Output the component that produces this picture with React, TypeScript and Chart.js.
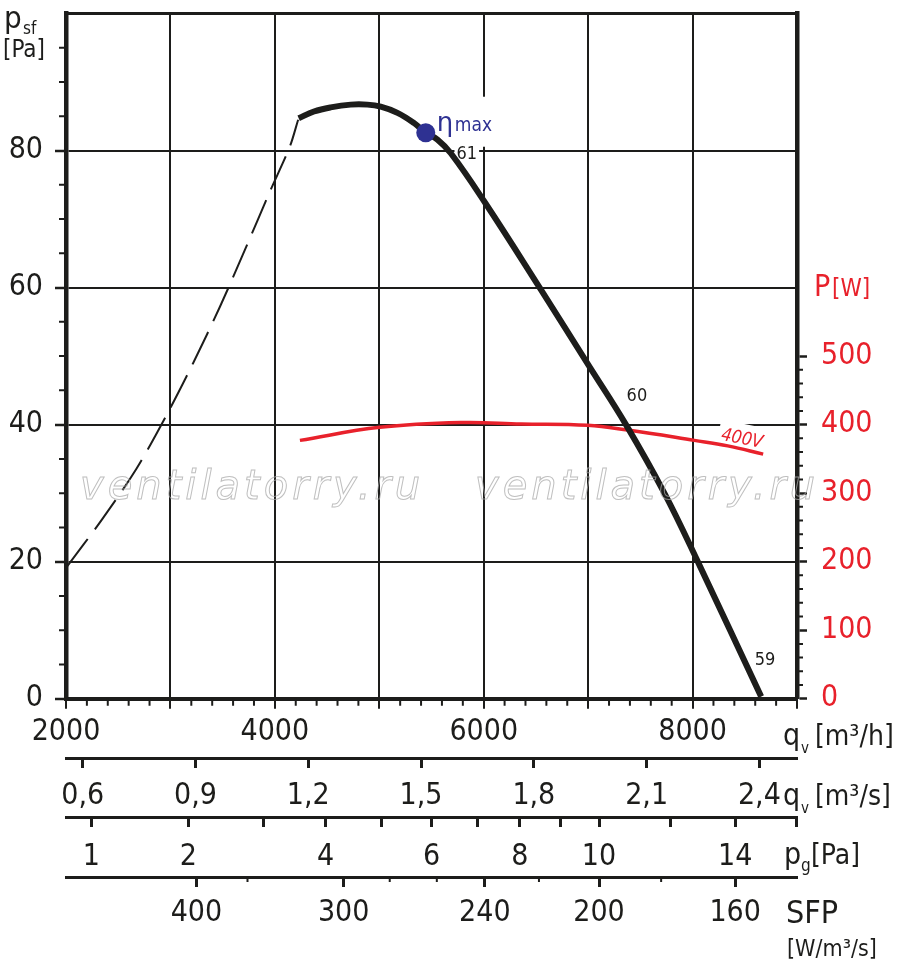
import { useEffect, useRef } from "react";
import { Chart, registerables } from "chart.js";

Chart.register(...registerables);

// stable part of the fan curve: q_v [m3/h] -> p_sf [Pa]
const flowSolid = [4228, 4374, 4534, 4726, 4886, 5014, 5174, 5334, 5445, 5557, 5685, 6004, 6531, 7011, 7362, 7730, 8050, 8657];
const pressureSolid = [84.7, 85.7, 86.3, 86.7, 86.7, 86.4, 85.5, 84.0, 82.6, 81.6, 79.6, 72.6, 60.1, 48.5, 40.0, 30.0, 20.0, 0.3];

// stall region (dashed)
const flowStall = [2000, 2342, 2676, 2963, 3218, 3474, 3713, 3952, 4144, 4223];
const pressureStall = [19.1, 26.1, 33.6, 41.4, 49.0, 57.2, 65.5, 74.0, 80.6, 84.5];

// input power at 400V: q_v [m3/h] -> P [W]
const flowPower = [4240, 5004, 5780, 6358, 6995, 7379, 8017, 8337, 8676];
const power = [377, 396, 403, 401, 399, 392, 377, 369, 357];

// best efficiency point
const etaMaxFlow = 5445;
const etaMaxPressure = 82.6;

// efficiency marks along the curve [%]
const efficiencyText = ["61", "60", "59"];
const efficiencyFlow = [5838, 7467, 8694];
const efficiencyPressure = [79.8, 44.5, 6.0];

// secondary scales
const flowM3s = [0.6, 0.9, 1.2, 1.5, 1.8, 2.1, 2.4];
const dynPressure = [1, 2, 3, 4, 5, 6, 7, 8, 9, 10, 12, 14, 16];
const dynPressureFlow = [2243, 3172, 3892, 4486, 5023, 5502, 5944, 6346, 6740, 7104, 7785, 8408, 8993];
const dynPressureShown = [1, 2, 4, 6, 8, 10, 14];
const sfpLabels = [400, 300, 240, 200, 160];
const sfpFlow = [3249, 4659, 6011, 7104, 8408];
const sfpMinorFlow = [3738, 5100, 5551, 6529, 7699];

const FONT = '"DejaVu Sans Condensed", "DejaVu Sans", sans-serif';
const INK = "#1d1d1b";
const RED = "#e8212b";
const BLUE = "#2e3192";

function text(ctx: CanvasRenderingContext2D, s: string, x: number, y: number, size: number, color = INK, align: CanvasTextAlign = "left", style = "") {
  ctx.font = `${style} ${size}px ${FONT}`;
  ctx.fillStyle = color;
  ctx.textAlign = align;
  ctx.textBaseline = "alphabetic";
  ctx.fillText(s, x, y);
  return ctx.measureText(s).width;
}

const noPadding = (s: any) => {
  s.paddingTop = 0;
  s.paddingBottom = 0;
  s.paddingLeft = 0;
  s.paddingRight = 0;
};

const extras = {
  id: "extras",
  beforeDatasetsDraw(chart: Chart) {
    const { ctx, chartArea: a, scales } = chart;
    const x = scales.x, y = scales.y, p = scales.p, sfp = scales.sfp;
    ctx.save();

    // top frame
    ctx.strokeStyle = INK;
    ctx.lineWidth = 3;
    ctx.beginPath();
    ctx.moveTo(a.left - 2, a.top);
    ctx.lineTo(a.right + 2, a.top);
    ctx.stroke();

    // minor ticks
    ctx.lineWidth = 2;
    ctx.beginPath();
    for (let q = 2200; q < 9000; q += 200) {
      if (q % 1000 === 0) continue;
      const px = x.getPixelForValue(q);
      ctx.moveTo(px, a.bottom);
      ctx.lineTo(px, a.bottom + 7);
    }
    for (let v = 5; v < 100; v += 5) {
      if (v % 20 === 0) continue;
      const py = y.getPixelForValue(v);
      ctx.moveTo(a.left - 7, py);
      ctx.lineTo(a.left, py);
    }
    for (let w = 20; w < 500; w += 20) {
      if (w % 100 === 0) continue;
      const py = p.getPixelForValue(w);
      ctx.moveTo(a.right, py);
      ctx.lineTo(a.right + 6, py);
    }
    sfpMinorFlow.forEach((q) => {
      const px = x.getPixelForValue(q);
      ctx.moveTo(px, sfp.top);
      ctx.lineTo(px, sfp.top + 5);
    });
    ctx.stroke();

    // eta max label
    const ex = x.getPixelForValue(etaMaxFlow);
    const ey = y.getPixelForValue(etaMaxPressure);
    ctx.fillStyle = "#fff";
    ctx.fillRect(ex + 10, ey - 36, 56, 50);
    ctx.font = `26px "DejaVu Sans", sans-serif`;
    ctx.fillStyle = BLUE;
    ctx.textAlign = "left";
    ctx.fillText("η", ex + 11, ey - 2);
    text(ctx, "max", ex + 29, ey - 2, 19, BLUE);

    // efficiency marks
    efficiencyText.forEach((s, i) => {
      const px = x.getPixelForValue(efficiencyFlow[i]);
      const py = y.getPixelForValue(efficiencyPressure[i]);
      ctx.font = `18px ${FONT}`;
      const w = ctx.measureText(s).width;
      ctx.fillStyle = "#fff";
      ctx.fillRect(px - w / 2 - 2, py - 9, w + 4, 18);
      text(ctx, s, px, py + 7, 18, INK, "center");
    });

    // 400V label
    const vx = x.getPixelForValue(8477);
    const vy = p.getPixelForValue(382);
    ctx.save();
    ctx.translate(vx, vy);
    ctx.rotate((11 * Math.PI) / 180);
    ctx.font = `italic 18px ${FONT}`;
    const vw = ctx.measureText("400V").width;
    ctx.fillStyle = "#fff";
    ctx.fillRect(-vw / 2 - 3, -13, vw + 6, 22);
    text(ctx, "400V", 0, 7, 18, RED, "center", "italic");
    ctx.restore();

    // axis titles
    text(ctx, "p", 4, 28, 31);
    text(ctx, "sf", 23, 34, 17);
    text(ctx, "[Pa]", 3, 57, 24);

    text(ctx, "P", 814, 296, 30, RED);
    text(ctx, "[W]", 832, 296, 24, RED);

    text(ctx, "q", 783, 745, 30);
    text(ctx, "v", 801, 753, 15);
    text(ctx, "[m³/h]", 815, 745, 28);

    text(ctx, "q", 783, 805, 30);
    text(ctx, "v", 801, 813, 15);
    text(ctx, "[m³/s]", 815, 805, 28);

    text(ctx, "p", 784, 864, 30);
    text(ctx, "g", 801, 871, 17);
    text(ctx, "[Pa]", 811, 864, 28);

    text(ctx, "SFP", 786, 923, 32);
    text(ctx, "[W/m³/s]", 787, 956, 23);

    ctx.restore();
  },
  afterDatasetsDraw(chart: Chart) {
    const { ctx } = chart;
    ctx.save();
    ctx.font = `oblique 40px "DejaVu Sans", sans-serif`;
    (ctx as any).letterSpacing = "4px";
    ctx.strokeStyle = "rgba(170,170,170,0.75)";
    ctx.lineWidth = 1;
    ctx.textAlign = "left";
    ctx.strokeText("ventilatorry.ru", 80, 499);
    ctx.strokeText("ventilatorry.ru", 475, 499);
    ctx.restore();
  },
};

export default function App() {
  const canvasRef = useRef<HTMLCanvasElement | null>(null);

  useEffect(() => {
    const canvas = canvasRef.current;
    if (!canvas) return;

    const tickFont = { family: FONT, size: 30 };
    const bottomAxis = (weight: number, height: number, padding: number) => ({
      type: "linear" as const,
      position: "bottom" as const,
      min: 2000,
      max: 9000,
      weight,
      grid: { drawOnChartArea: false, color: INK, tickLength: 10, tickWidth: 3 },
      border: { color: INK, width: 3 },
      afterFit: (s: any) => {
        s.height = height;
        noPadding(s);
      },
      ticks: { autoSkip: false, maxRotation: 0, padding, color: INK, font: tickFont },
    });

    const chart = new Chart(canvas, {
      type: "line",
      data: {
        datasets: [
          {
            data: [{ x: etaMaxFlow, y: etaMaxPressure }],
            showLine: false,
            pointRadius: 9.5,
            pointBackgroundColor: BLUE,
            pointBorderWidth: 0,
            order: 0,
          },
          {
            data: flowSolid.map((q, i) => ({ x: q, y: pressureSolid[i] })),
            borderColor: INK,
            borderWidth: 6,
            pointRadius: 0,
            tension: 0.4,
            order: 1,
          },
          {
            data: flowPower.map((q, i) => ({ x: q, y: power[i] })),
            yAxisID: "p",
            borderColor: RED,
            borderWidth: 3.5,
            pointRadius: 0,
            tension: 0.4,
            order: 2,
          },
          {
            data: flowStall.map((q, i) => ({ x: q, y: pressureStall[i] })),
            borderColor: INK,
            borderWidth: 2,
            borderDash: [36, 12],
            pointRadius: 0,
            tension: 0.3,
            order: 3,
          },
        ],
      },
      options: {
        animation: false,
        responsive: false,
        devicePixelRatio: 1,
        layout: { padding: { top: 13.5, left: 0, right: 0, bottom: 0 } },
        plugins: { legend: { display: false }, tooltip: { enabled: false } },
        scales: {
          x: {
            type: "linear",
            position: "bottom",
            min: 2000,
            max: 9000,
            weight: 0,
            grid: { color: INK, lineWidth: 2, tickLength: 10, tickWidth: 2 },
            border: { color: INK, width: 4 },
            afterFit: (s: any) => {
              s.height = 59.3;
              noPadding(s);
            },
            ticks: {
              stepSize: 1000,
              autoSkip: false,
              maxRotation: 0,
              padding: 6,
              color: INK,
              font: tickFont,
              callback: (v: any) => (Number(v) % 2000 === 0 ? String(v) : ""),
            },
          },
          ms: {
            ...bottomAxis(1, 59, 10),
            afterBuildTicks: (s: any) => {
              s.ticks = flowM3s.map((v) => ({ value: v * 3600 }));
            },
            ticks: {
              ...bottomAxis(1, 59, 10).ticks,
              callback: (_v: any, i: number) => flowM3s[i].toFixed(1).replace(".", ","),
            },
          },
          pg: {
            ...bottomAxis(2, 60, 12),
            afterBuildTicks: (s: any) => {
              s.ticks = dynPressureFlow.map((q) => ({ value: q }));
            },
            ticks: {
              ...bottomAxis(2, 60, 12).ticks,
              callback: (_v: any, i: number) =>
                dynPressureShown.includes(dynPressure[i]) ? String(dynPressure[i]) : "",
            },
          },
          sfp: {
            ...bottomAxis(3, 93, 8),
            afterBuildTicks: (s: any) => {
              s.ticks = sfpFlow.map((q) => ({ value: q }));
            },
            ticks: {
              ...bottomAxis(3, 93, 8).ticks,
              callback: (_v: any, i: number) => String(sfpLabels[i]),
            },
          },
          y: {
            type: "linear",
            position: "left",
            min: 0,
            max: 100,
            grid: { color: INK, lineWidth: 2, tickLength: 11, tickWidth: 2.5 },
            border: { color: INK, width: 4.5 },
            afterBuildTicks: (s: any) => {
              s.ticks = s.ticks.filter((t: any) => t.value <= 80);
            },
            afterFit: (s: any) => {
              s.width = 66;
              noPadding(s);
            },
            ticks: { stepSize: 20, padding: 12, color: INK, font: tickFont },
          },
          p: {
            type: "linear",
            position: "right",
            min: 0,
            max: 1000,
            grid: { drawOnChartArea: false, color: INK, tickLength: 10, tickWidth: 2.5 },
            border: { color: INK, width: 4.5 },
            afterBuildTicks: (s: any) => {
              s.ticks = s.ticks.filter((t: any) => t.value <= 500);
            },
            afterFit: (s: any) => {
              s.width = 103;
              noPadding(s);
            },
            ticks: { stepSize: 100, padding: 14, color: RED, font: tickFont },
          },
        },
      },
      plugins: [extras],
    });

    return () => chart.destroy();
  }, []);

  return (
    <div style={{ position: "absolute", left: 0, top: 0, width: 900, height: 970, background: "#fff" }}>
      <canvas ref={canvasRef} width={900} height={970} />
    </div>
  );
}
